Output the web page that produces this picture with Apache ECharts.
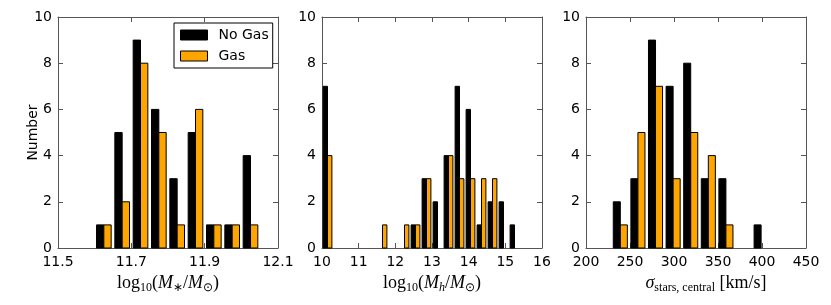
<!DOCTYPE html>
<html><head><meta charset="utf-8">
<script src="https://cdn.jsdelivr.net/npm/echarts@6/dist/echarts.min.js"></script>
<style>html,body{margin:0;padding:0;background:#fff}#c{width:831px;height:305px}</style>
</head><body><div id="c"></div>
<script>
// ---- data ----
const seriesNames = ['No Gas', 'Gas'];

const massBins = [11.60, 11.65, 11.70, 11.75, 11.80, 11.85, 11.90, 11.95, 12.00];
const massBinWidth = 0.05;
const massNoGas = [1, 5, 9, 6, 3, 5, 1, 1, 4];
const massGas   = [1, 2, 8, 5, 1, 6, 1, 1, 1];

const haloBins = [10.0, 10.3, 10.6, 10.9, 11.2, 11.5, 11.8, 12.1, 12.4, 12.7, 13.0, 13.3, 13.6, 13.9, 14.2, 14.5, 14.8, 15.1];
const haloBinWidth = 0.3;
const haloNoGas = [7, 0, 0, 0, 0, 0, 0, 0, 1, 3, 2, 4, 7, 6, 1, 2, 2, 1];
const haloGas   = [4, 0, 0, 0, 0, 1, 0, 1, 1, 3, 0, 4, 3, 3, 3, 3, 0, 0];

const sigmaBins = [229, 249, 269, 289, 309, 329, 349, 369, 389];
const sigmaBinWidth = 20;
const sigmaNoGas = [2, 3, 9, 7, 8, 3, 3, 0, 1];
const sigmaGas   = [1, 5, 7, 3, 5, 4, 1, 0, 0];

const xRanges = [[11.5, 12.1, 0.2], [10, 16, 1], [200, 450, 50]];
const yRange = [0, 10, 2];
const yLabel = 'Number';

// ---- chart ----
const colors = ['#000000', '#FFA500'];
const gridLefts = [58, 322, 586];
const lineColor = '#555';
const tickFont = { fontFamily: 'DejaVu Sans', fontSize: 14, color: '#000' };

function zip(bins, counts) { return bins.map((b, i) => [b, counts[i]]); }

function barRenderer(binWidth, slot) {
  return function (params, api) {
    const start = api.value(0), count = api.value(1);
    if (!count) return null;
    const left = start + binWidth * (0.1 + 0.4 * slot);
    const right = left + binWidth * 0.4;
    const p0 = api.coord([left, count]);
    const p1 = api.coord([right, 0]);
    return {
      type: 'rect',
      shape: { x: p0[0], y: p0[1], width: p1[0] - p0[0], height: p1[1] - p0[1] },
      style: { fill: api.visual('color'), stroke: '#000', lineWidth: 1 }
    };
  };
}

const serif = 'Liberation Serif';
const richStyles = {
  n: { fontFamily: serif, fontSize: 18, color: '#000', lineHeight: 22, verticalAlign: 'middle' },
  i: { fontFamily: serif, fontSize: 18, fontStyle: 'italic', color: '#000', lineHeight: 22, verticalAlign: 'middle' },
  s: { fontFamily: serif, fontSize: 12, color: '#000', lineHeight: 14, verticalAlign: 'bottom', padding: [6, 0, 0, 0] },
  si: { fontFamily: serif, fontSize: 12, fontStyle: 'italic', color: '#000', lineHeight: 14, verticalAlign: 'bottom', padding: [6, 0, 0, 0] }
};
const xNames = [
  '{n|log}{s|10}{n|(}{i|M}{s|∗}{n|/}{i|M}{s|⊙}{n|)}',
  '{n|log}{s|10}{n|(}{i|M}{si|h}{n|/}{i|M}{s|⊙}{n|)}',
  '{i|σ}{s|stars, central}{n| [km/s]}'
];
const namePads = [[0, 0, 0, 0], [0, 0, 0, 0], [0, 0, 0, 20]];

const grids = [], xAxes = [], yAxes = [], series = [];
const binSets = [
  [massBins, massBinWidth, massNoGas, massGas],
  [haloBins, haloBinWidth, haloNoGas, haloGas],
  [sigmaBins, sigmaBinWidth, sigmaNoGas, sigmaGas]
];

for (let g = 0; g < 3; g++) {
  grids.push({ left: gridLefts[g], top: 17, width: 220, height: 231, containLabel: false });
  const [xmin, xmax, xint] = xRanges[g];
  const common = {
    gridIndex: g, type: 'value', min: xmin, max: xmax, interval: xint,
    splitLine: { show: false },
    axisLine: { show: true, onZero: false, lineStyle: { color: lineColor, width: 1 } },
    axisTick: { show: true, inside: true, length: 5, lineStyle: { color: lineColor } }
  };
  xAxes.push(Object.assign({}, common, {
    position: 'bottom',
    axisLabel: Object.assign({ margin: 7 }, tickFont),
    name: xNames[g], nameLocation: 'middle', nameGap: 24, nameMoveOverlap: false,
    nameTextStyle: { rich: richStyles, padding: namePads[g] }
  }));
  xAxes.push(Object.assign({}, common, { position: 'top', axisLabel: { show: false } }));
  const ycommon = {
    gridIndex: g, type: 'value', min: yRange[0], max: yRange[1], interval: yRange[2],
    splitLine: { show: false },
    axisLine: { show: true, onZero: false, lineStyle: { color: lineColor, width: 1 } },
    axisTick: { show: true, inside: true, length: 5, lineStyle: { color: lineColor } }
  };
  const ya = Object.assign({}, ycommon, { position: 'left', axisLabel: Object.assign({ margin: 6 }, tickFont) });
  if (g === 0) {
    ya.name = yLabel; ya.nameLocation = 'middle'; ya.nameGap = 18; ya.nameMoveOverlap = false;
    ya.nameTextStyle = { fontFamily: 'DejaVu Sans', fontSize: 14, color: '#000' };
  }
  yAxes.push(ya);
  yAxes.push(Object.assign({}, ycommon, { position: 'right', axisLabel: { show: false } }));

  const [bins, bw, noGas, gas] = binSets[g];
  [noGas, gas].forEach((vals, slot) => {
    series.push({
      type: 'custom', name: seriesNames[slot],
      xAxisIndex: 2 * g, yAxisIndex: 2 * g,
      itemStyle: { color: colors[slot] },
      renderItem: barRenderer(bw, slot),
      encode: { x: 0, y: 1 },
      data: zip(bins, vals),
      z: 1
    });
  });
}

const chart = echarts.init(document.getElementById('c'), null, { renderer: 'canvas' });
chart.setOption({
  animation: false,
  backgroundColor: '#fff',
  grid: grids, xAxis: xAxes, yAxis: yAxes, series: series,
  legend: {
    orient: 'vertical', left: 174, top: 23,
    padding: [5, 4, 5, 6], itemGap: 7,
    itemWidth: 27, itemHeight: 10, icon: 'rect',
    borderColor: '#000', borderWidth: 1, borderRadius: 0,
    backgroundColor: '#fff',
    textStyle: { fontFamily: 'DejaVu Sans', fontSize: 14, color: '#000', padding: [0, 0, 0, 6] },
    data: [
      { name: 'No Gas', itemStyle: { color: '#000', borderColor: '#000', borderWidth: 1 } },
      { name: 'Gas', itemStyle: { color: '#FFA500', borderColor: '#000', borderWidth: 1 } }
    ]
  }
});
</script>
</body></html>
